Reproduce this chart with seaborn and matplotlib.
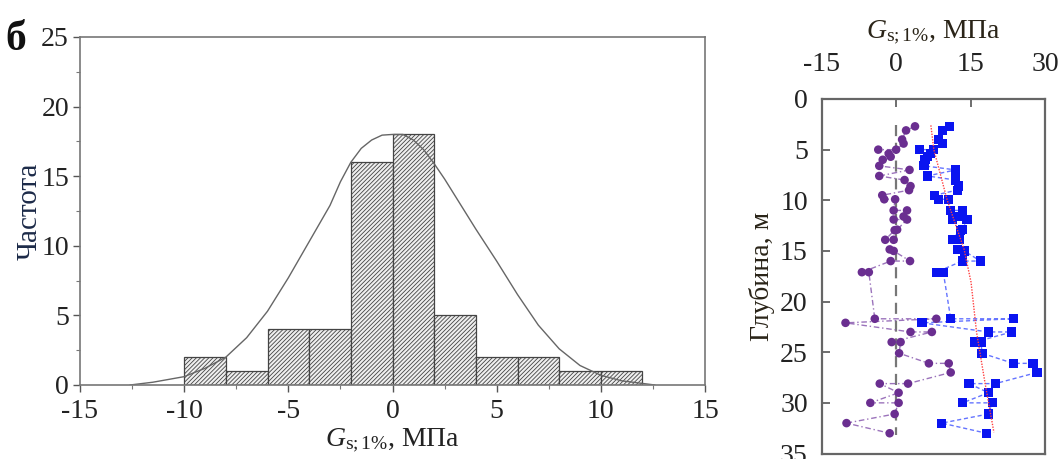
import numpy as np
import pandas as pd
import matplotlib
matplotlib.use("Agg")
import matplotlib.pyplot as plt
import seaborn as sns

# ---------------- data ----------------
bin_edges = [-10, -8, -6, -4, -2, 0, 2, 4, 6, 8, 10, 12]
bin_counts = [2, 1, 4, 4, 16, 18, 5, 2, 2, 1, 1]

curve_x = [-12.6, -11.5, -10, -9, -8, -7, -6, -5, -4, -3, -2.5, -2, -1.5, -1, -0.5,
           0, 0.5, 1, 1.5, 2, 2.5, 3, 4, 5, 6, 7, 8, 9, 10, 11, 12.6]
curve_y = [0.0, 0.2, 0.6, 1.2, 2.0, 3.4, 5.3, 7.7, 10.3, 12.9, 14.6, 16.0, 17.0, 17.6, 17.95,
           18.0, 18.0, 17.6, 16.9, 15.9, 14.8, 13.6, 11.2, 8.9, 6.5, 4.3, 2.6, 1.4, 0.7, 0.3, 0.0]

purple_x = [3.8, 2.0, 1.2, 1.5, 0.0, -3.6, -1.5, -1.1, -2.7, -3.4, 2.7, -3.4, 1.7, 2.9, 2.6,
            -2.8, -2.4, -0.2, -0.5, 2.2, 1.5, -0.5, 2.2, 0.2, -0.3, -2.2, -0.5, -1.3, -0.5,
            2.8, -1.1, -6.9, -5.5, -4.3, 8.1, -10.2, 2.9, 7.2, -0.9, 0.9, 0.6, 6.6, 10.6,
            11.0, 2.4, -3.3, 0.5, -5.2, 0.5, -0.3, -10.0, -1.3]
purple_d = [2.7, 3.1, 4.0, 4.4, 5.0, 5.0, 5.4, 5.7, 6.0, 6.6, 7.0, 7.6, 8.0, 8.6, 9.0,
            9.5, 9.9, 9.9, 11.0, 11.0, 11.6, 11.9, 11.9, 12.9, 12.95, 13.9, 13.9, 14.85, 15.0,
            16.0, 16.0, 17.1, 17.1, 21.7, 21.7, 22.1, 23.0, 23.0, 24.0, 24.0, 25.1, 26.1, 26.1,
            27.0, 28.1, 28.1, 29.0, 30.0, 30.0, 31.1, 32.0, 33.0]

blue_x = [10.8, 9.3, 8.6, 9.3, 7.6, 4.7, 6.9, 6.4, 5.8, 5.6, 12.0, 6.3, 12.0, 12.6, 12.3,
          7.7, 8.6, 10.6, 11.0, 13.3, 12.8, 11.4, 14.3, 13.4, 12.9, 11.3, 12.8, 12.3, 13.7,
          17.0, 13.3, 8.1, 9.5, 11.0, 23.6, 5.2, 18.6, 23.3, 15.9, 17.1, 17.3, 23.6, 27.6,
          28.4, 20.0, 14.7, 18.6, 13.4, 19.4, 18.6, 9.2, 18.2]
blue_d = purple_d

trend_x = [7.0, 7.6, 10.3, 13.7, 15.1, 16.2, 17.9, 19.7]
trend_d = [2.6, 5.0, 10.0, 14.85, 18.1, 23.0, 28.0, 32.9]

zero_x = [0, 0]
zero_d = [2.6, 33.2]

# ---------------- style ----------------
sns.set_theme(style="white")
plt.rcParams['font.family'] = ['Liberation Serif', 'DejaVu Serif']
plt.rcParams['mathtext.fontset'] = 'custom'
plt.rcParams['mathtext.rm'] = 'Liberation Serif'
plt.rcParams['mathtext.it'] = 'Liberation Serif:italic'
plt.rcParams['hatch.color'] = '#5a5a5a'
plt.rcParams['hatch.linewidth'] = 0.6

fig = plt.figure(figsize=(10.61, 4.59), dpi=100)

# ---------------- left: histogram ----------------
ax1 = fig.add_axes([80 / 1061, 1 - 385 / 459, 625 / 1061, 348 / 459])
centers = [(a + b) / 2 for a, b in zip(bin_edges[:-1], bin_edges[1:])]
hdf = pd.DataFrame({'x': centers, 'w': bin_counts})
sns.histplot(data=hdf, x='x', weights='w', bins=bin_edges, ax=ax1,
             color='#f0f0f0', edgecolor='#444444', linewidth=0.9, alpha=1)
for p in ax1.patches:
    p.set_hatch('////////')
    p.set_facecolor('#efefef')
    p.set_edgecolor('#444444')
cdf = pd.DataFrame({'x': curve_x, 'y': curve_y})
sns.lineplot(data=cdf, x='x', y='y', ax=ax1, color='#666666', linewidth=1.0,
             sort=False, estimator=None)
ax1.set_xlim(-15, 15)
ax1.set_ylim(0, 25)
ax1.set_xticks([-15, -10, -5, 0, 5, 10, 15])
ax1.set_xticklabels(['-15', '-10', '-5', '0', '5', '10', '15'])
ax1.set_yticks([0, 5, 10, 15, 20, 25])
ax1.set_xticks(np.arange(-12.5, 15, 5), minor=True)
ax1.set_yticks(np.arange(2.5, 25, 5), minor=True)
ax1.tick_params(axis='both', which='major', direction='out', length=5, width=1,
                color='#555555', labelsize=20, labelcolor='#222222')
ax1.tick_params(axis='x', which='major', pad=5)
ax1.tick_params(axis='y', which='major', pad=3)
ax1.tick_params(axis='both', which='minor', direction='out', length=3, width=0.8,
                color='#777777')
ax1.tick_params(bottom=True, left=True, which='both')
for s in ax1.spines.values():
    s.set_color('#777777')
    s.set_linewidth(1.2)
ax1.set_xlabel(r'$G_{\mathrm{s;1\%}}$, МПа', fontsize=20, color='#222222', labelpad=2)
ax1.set_ylabel('Частота', fontsize=21, color='#1c2a48', labelpad=-1)
fig.text(5 / 1061, 1 - 50 / 459, 'б', fontsize=30, fontweight='bold', color='#111111')

# ---------------- right: depth profile ----------------
ax2 = fig.add_axes([821.7 / 1061, 1 - 453.5 / 459, 223.3 / 1061, 354.5 / 459])
ddf = pd.DataFrame({'px': purple_x, 'bx': blue_x, 'd': purple_d})
sns.lineplot(x=zero_x, y=zero_d, ax=ax2, color='#777777', linewidth=1.6,
             linestyle=(0, (5, 3)), sort=False, estimator=None)
sns.lineplot(data=ddf, x='px', y='d', ax=ax2, color='#8a5bb0', linewidth=1.0,
             linestyle=(0, (4, 2, 1, 2)), sort=False, estimator=None, alpha=0.85)
sns.lineplot(data=ddf, x='bx', y='d', ax=ax2, color='#4a5cff', linewidth=1.0,
             linestyle=(0, (3, 2)), sort=False, estimator=None, alpha=0.85)
sns.scatterplot(data=ddf, x='px', y='d', ax=ax2, color='#6a2e90', marker='o', s=38,
                edgecolor='none', zorder=3)
sns.scatterplot(data=ddf, x='bx', y='d', ax=ax2, color='#0a14f0', marker='s', s=44,
                edgecolor='none', zorder=3)
sns.lineplot(x=trend_x, y=trend_d, ax=ax2, color='#ff4040', linewidth=1.0,
             linestyle=(0, (1, 1)), sort=False, estimator=None, zorder=4)
ax2.set_xlim(-15, 30)
ax2.set_ylim(35, 0)
ax2.xaxis.tick_top()
ax2.xaxis.set_label_position('top')
ax2.set_xticks([-15, 0, 15, 30])
ax2.set_xticklabels(['-15', '0', '15', '30'])
ax2.set_yticks([0, 5, 10, 15, 20, 25, 30, 35])
ax2.tick_params(axis='both', direction='in', length=6, width=1.2, color='#555555',
                labelsize=20, labelcolor='#222222')
ax2.tick_params(axis='x', pad=16)
ax2.tick_params(axis='y', pad=10)
ax2.tick_params(top=True, left=True, bottom=False, right=False)
for s in ax2.spines.values():
    s.set_color('#666666')
    s.set_linewidth(1.6)
ax2.set_xlabel(r'$G_{\mathrm{s;1\%}}$, МПа', fontsize=20, color='#2a2418', labelpad=10)
ax2.set_ylabel('Глубина, м', fontsize=20, color='#2a2418', labelpad=4)

fig.savefig('out.png', dpi=100)
